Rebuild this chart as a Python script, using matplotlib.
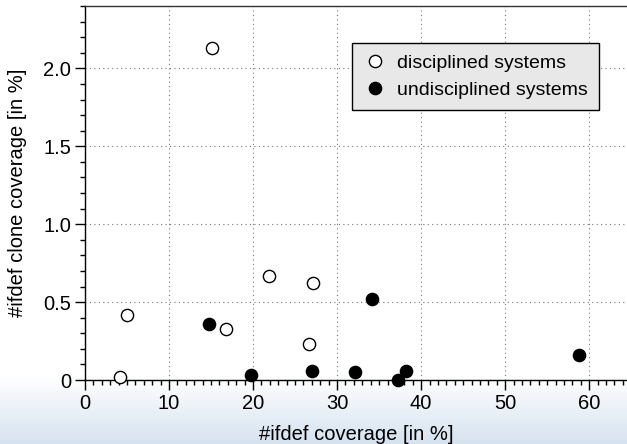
import numpy as np
import matplotlib.pyplot as plt
from matplotlib.ticker import MultipleLocator, FuncFormatter

plt.rcParams['font.family'] = ['Liberation Sans', 'DejaVu Sans']

# disciplined systems (open circles)
disc_x = [15.1, 5.0, 4.2, 16.8, 21.9, 27.1, 26.7]
disc_y = [2.13, 0.42, 0.02, 0.33, 0.67, 0.62, 0.23]

# undisciplined systems (filled circles)
undisc_x = [14.8, 19.7, 27.0, 32.1, 34.2, 37.2, 38.2, 58.8]
undisc_y = [0.36, 0.03, 0.06, 0.05, 0.52, 0.0, 0.06, 0.16]

fig = plt.figure(figsize=(6.27, 4.44), dpi=100)

# light blue gradient at the bottom of the slide
bg = fig.add_axes([0, 0, 1, 1], zorder=-10)
grad = np.linspace(0, 1, 256).reshape(-1, 1)
grad = np.clip(grad / 0.15, 0, 1)  # 0 at bottom
top = np.array([1.0, 1.0, 1.0])
bottom = np.array([0.84, 0.89, 0.94])
img = bottom + (top - bottom) * grad[..., None]
bg.imshow(img, aspect='auto', extent=[0, 1, 0, 1], origin='lower')
bg.axis('off')

ax = fig.add_axes([85 / 627, 64 / 444, 542 / 627, 374 / 444])
ax.patch.set_alpha(0)

ax.plot(disc_x, disc_y, 'o', ms=8.8, mfc='white', mec='black', mew=1.0,
        label='disciplined systems', clip_on=False, zorder=3)
ax.plot(undisc_x, undisc_y, 'o', ms=8.8, mfc='black', mec='black',
        label='undisciplined systems', clip_on=False, zorder=3)

ax.set_xlim(0, 64.5)
ax.set_ylim(0, 2.4)
ax.xaxis.set_major_locator(MultipleLocator(10))
ax.xaxis.set_minor_locator(MultipleLocator(1))
ax.yaxis.set_major_locator(MultipleLocator(0.5))
ax.yaxis.set_minor_locator(MultipleLocator(0.1))
ax.yaxis.set_major_formatter(FuncFormatter(lambda v, p: '0' if v == 0 else f'{v:.1f}'))

ax.tick_params(which='major', length=7, width=1, labelsize=14.5, direction='out', pad=3)
ax.tick_params(which='minor', length=3.5, width=1, direction='out')
ax.tick_params(top=False, right=False, which='both')

ax.grid(True, which='major', linestyle=(0, (1, 3)), color='#777777', linewidth=0.8)
ax.set_axisbelow(True)

ax.spines['right'].set_visible(False)
for s in ['left', 'bottom', 'top']:
    ax.spines[s].set_linewidth(1.0)
ax.spines['top'].set_color('#333333')

ax.set_xlabel('#ifdef coverage [in %]', fontsize=14.5, labelpad=9)
ax.set_ylabel('#ifdef clone coverage [in %]', fontsize=14.5, labelpad=12)

leg = ax.legend(loc='upper left', bbox_to_anchor=(0.4926, 0.901), borderaxespad=0,
                fontsize=14, frameon=True, fancybox=False, edgecolor='black',
                facecolor='#e8e8e8', framealpha=1, handletextpad=0.5,
                borderpad=0.6, labelspacing=0.45, handlelength=1.2)
leg.get_frame().set_linewidth(1.0)

fig.savefig('out.png', dpi=100)
